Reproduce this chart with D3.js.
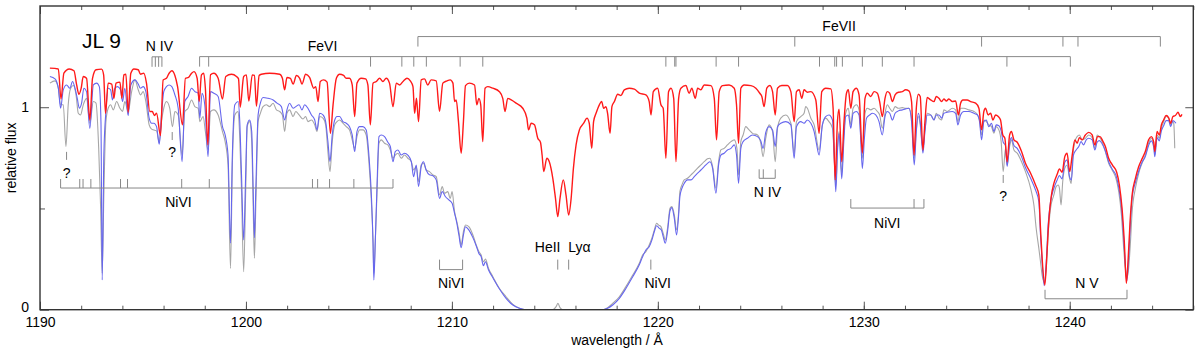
<!DOCTYPE html>
<html>
<head>
<meta charset="utf-8">
<script src="https://cdn.jsdelivr.net/npm/d3@7"></script>
<style>
  html, body { margin: 0; padding: 0; background: #fff; }
  svg text { font-family: "Liberation Sans", Arial, Helvetica, sans-serif; fill: #000; }
</style>
</head>
<body>
<div id="chart"></div>
<script>
// Spectrum of JL 9 around Ly alpha: observed (grey) and two models (blue, red)
// Values are [wavelength in Angstrom, relative flux]

const observedSpec = [
  [1190.48,1.119],[1190.73,1.130],[1190.89,1.094],[1191.00,1.012],[1191.13,1.012],[1191.26,0.806],[1191.37,1.012],[1191.49,1.094],
  [1191.62,1.107],[1191.75,1.061],[1191.86,0.970],[1191.97,0.962],[1192.10,1.012],[1192.26,1.044],[1192.42,0.921],[1192.59,1.028],
  [1192.72,1.020],[1192.85,0.797],[1192.94,0.517],[1193.02,0.180],[1193.10,0.567],[1193.20,0.929],[1193.31,0.995],[1193.43,1.012],
  [1193.56,0.987],[1193.72,1.028],[1193.88,0.995],[1194.01,0.979],[1194.12,1.028],[1194.28,0.979],[1194.45,1.077],[1194.61,1.135],
  [1194.77,1.086],[1194.88,1.061],[1195.01,1.077],[1195.14,1.028],[1195.30,0.913],[1195.42,0.892],[1195.53,0.888],[1195.66,0.883],
  [1195.79,0.827],[1195.90,0.929],[1196.01,0.995],[1196.14,1.028],[1196.30,0.995],[1196.43,0.904],[1196.55,0.979],[1196.71,0.962],
  [1196.90,0.764],[1197.03,0.979],[1197.19,0.995],[1197.36,1.036],[1197.52,1.003],[1197.68,0.995],[1197.76,0.929],[1197.92,0.954],
  [1198.03,0.880],[1198.16,0.789],[1198.28,0.979],[1198.44,0.987],[1198.65,0.962],[1198.86,0.880],[1198.99,0.830],[1199.13,0.715],
  [1199.25,0.204],[1199.34,0.715],[1199.46,0.962],[1199.62,0.979],[1199.70,0.847],[1199.78,0.600],[1199.89,0.188],[1199.99,0.600],
  [1200.06,0.904],[1200.18,0.929],[1200.28,0.830],[1200.35,0.517],[1200.41,0.254],[1200.48,0.517],[1200.59,0.929],[1200.70,0.970],
  [1200.83,1.003],[1200.99,1.012],[1201.15,1.003],[1201.32,1.020],[1201.48,0.987],[1201.64,0.979],[1201.77,0.962],[1201.88,0.880],
  [1201.99,0.970],[1202.12,0.987],[1202.29,0.954],[1202.42,0.979],[1202.58,0.962],[1202.77,0.942],[1202.90,0.954],[1203.01,0.929],
  [1203.18,0.937],[1203.34,0.913],[1203.45,0.880],[1203.58,0.954],[1203.74,0.946],[1203.87,0.913],[1203.98,0.781],[1204.08,0.682],
  [1204.19,0.830],[1204.31,0.913],[1204.42,0.929],[1204.55,0.937],[1204.71,0.921],[1204.87,0.904],[1205.03,0.888],[1205.16,0.839],
  [1205.28,0.797],[1205.39,0.855],[1205.52,0.888],[1205.68,0.888],[1205.84,0.863],[1205.97,0.731],[1206.09,0.534],[1206.17,0.336],
  [1206.21,0.180],[1206.28,0.336],[1206.36,0.567],[1206.46,0.822],[1206.57,0.839],[1206.73,0.822],[1206.89,0.814],[1207.01,0.789],
  [1207.14,0.748],[1207.25,0.764],[1207.38,0.773],[1207.54,0.748],[1207.70,0.764],[1207.86,0.748],[1208.03,0.731],[1208.14,0.690],
  [1208.27,0.707],[1208.38,0.633],[1208.51,0.715],[1208.62,0.723],[1208.75,0.690],[1208.91,0.682],[1209.08,0.666],[1209.24,0.657],
  [1209.40,0.567],[1209.53,0.608],[1209.64,0.575],[1209.80,0.583],[1209.92,0.550],[1210.01,0.583],[1210.13,0.484],[1210.24,0.435],
  [1210.34,0.386],[1210.45,0.320],[1210.56,0.386],[1210.66,0.418],[1210.82,0.410],[1211.02,0.369],[1211.18,0.320],[1211.31,0.287],
  [1211.42,0.270],[1211.53,0.237],[1211.63,0.250],[1211.78,0.204],[1211.99,0.163],[1212.31,0.105],[1212.63,0.064],[1212.96,0.026],
  [1213.28,0.007],[1213.60,0],[1214.90,0],[1215.06,0.015],[1215.15,0.031],[1215.25,0.010],[1215.38,0],[1217.32,0],
  [1217.56,0.010],[1217.81,0.031],[1218.13,0.064],[1218.45,0.114],[1218.78,0.171],[1219.10,0.229],[1219.26,0.270],[1219.42,0.287],
  [1219.58,0.320],[1219.71,0.353],[1219.83,0.394],[1219.94,0.427],[1220.04,0.418],[1220.15,0.410],[1220.26,0.377],[1220.36,0.344],
  [1220.47,0.402],[1220.59,0.501],[1220.68,0.509],[1220.80,0.468],[1220.91,0.394],[1221.01,0.484],[1221.07,0.583],[1221.17,0.616],
  [1221.28,0.641],[1221.44,0.649],[1221.61,0.666],[1221.77,0.682],[1221.93,0.699],[1222.09,0.715],[1222.25,0.731],[1222.41,0.745],
  [1222.53,0.748],[1222.66,0.707],[1222.82,0.600],[1222.95,0.731],[1223.06,0.789],[1223.22,0.797],[1223.38,0.814],[1223.55,0.830],
  [1223.71,0.839],[1223.84,0.797],[1223.92,0.666],[1224.03,0.830],[1224.14,0.863],[1224.27,0.904],[1224.43,0.888],[1224.60,0.871],
  [1224.84,0.863],[1225.00,0.822],[1225.11,0.756],[1225.24,0.847],[1225.40,0.913],[1225.57,0.880],[1225.70,0.731],[1225.81,0.896],
  [1225.97,0.946],[1226.21,0.962],[1226.46,0.921],[1226.62,0.773],[1226.73,0.929],[1226.94,0.954],[1227.10,0.970],[1227.18,1.003],
  [1227.26,0.995],[1227.43,0.946],[1227.59,0.913],[1227.83,0.789],[1227.99,0.913],[1228.15,0.946],[1228.31,0.929],[1228.48,0.896],
  [1228.56,0.764],[1228.64,0.608],[1228.73,0.814],[1228.80,0.880],[1228.93,0.674],[1229.03,0.863],[1229.12,0.970],[1229.25,0.995],
  [1229.37,0.913],[1229.48,0.995],[1229.64,1.012],[1229.77,0.987],[1229.93,0.748],[1230.06,0.970],[1230.17,0.995],[1230.34,0.987],
  [1230.50,0.995],[1230.66,0.979],[1230.77,0.962],[1230.90,0.896],[1231.03,0.970],[1231.14,1.012],[1231.26,0.995],[1231.39,0.979],
  [1231.52,1.003],[1231.68,0.995],[1231.87,0.998],[1232.03,0.995],[1232.19,0.995],[1232.32,0.946],[1232.45,0.748],[1232.55,0.888],
  [1232.65,0.954],[1232.74,0.913],[1232.87,0.797],[1232.97,0.888],[1233.08,0.970],[1233.25,0.962],[1233.41,0.937],[1233.52,0.970],
  [1233.65,0.946],[1233.78,0.937],[1233.89,0.987],[1234.05,0.979],[1234.30,0.995],[1234.46,0.987],[1234.57,0.929],[1234.70,0.995],
  [1234.86,0.995],[1235.10,0.987],[1235.35,0.979],[1235.51,0.965],[1235.62,0.937],[1235.72,0.863],[1235.83,0.937],[1235.95,0.929],
  [1236.07,0.913],[1236.20,0.904],[1236.32,0.872],[1236.43,0.904],[1236.56,0.888],[1236.67,0.830],[1236.77,0.682],[1236.88,0.797],
  [1236.96,0.715],[1237.08,0.806],[1237.17,0.839],[1237.29,0.789],[1237.45,0.773],[1237.66,0.731],[1237.85,0.682],[1238.10,0.600],
  [1238.26,0.517],[1238.37,0.402],[1238.50,0.303],[1238.58,0.237],[1238.66,0.171],[1238.76,0.138],[1238.86,0.204],[1238.95,0.369],
  [1239.07,0.501],[1239.23,0.567],[1239.34,0.608],[1239.44,0.616],[1239.50,0.600],[1239.58,0.517],[1239.66,0.633],[1239.76,0.699],
  [1239.87,0.715],[1239.99,0.649],[1240.07,0.624],[1240.15,0.764],[1240.25,0.830],[1240.36,0.855],[1240.47,0.863],[1240.60,0.839],
  [1240.76,0.847],[1240.92,0.863],[1241.09,0.850],[1241.22,0.797],[1241.33,0.863],[1241.44,0.855],[1241.57,0.830],[1241.73,0.781],
  [1241.89,0.723],[1242.06,0.690],[1242.25,0.646],[1242.38,0.583],[1242.51,0.468],[1242.62,0.303],[1242.70,0.204],[1242.77,0.155],
  [1242.86,0.204],[1242.95,0.336],[1243.03,0.484],[1243.19,0.600],[1243.35,0.674],[1243.51,0.723],[1243.67,0.764],[1243.83,0.822],
  [1243.96,0.847],[1244.08,0.814],[1244.13,0.764],[1244.24,0.863],[1244.35,0.847],[1244.45,0.896],[1244.56,0.929],[1244.68,0.954],
  [1244.80,0.946],[1244.90,0.913],[1244.98,0.929],[1245.05,0.921],[1245.10,0.797]
];

const modelBlueSpec = [
  [1190.48,1.152],[1190.73,1.140],[1190.89,1.094],[1191.00,0.995],[1191.13,1.086],[1191.29,1.110],[1191.45,1.094],[1191.58,1.127],
  [1191.70,1.094],[1191.81,1.044],[1191.91,0.995],[1192.02,1.020],[1192.13,1.094],[1192.26,1.077],[1192.42,0.896],[1192.59,1.110],
  [1192.75,1.119],[1192.88,1.102],[1192.96,0.929],[1193.02,0.147],[1193.10,0.764],[1193.20,0.979],[1193.31,1.094],[1193.43,1.086],
  [1193.52,1.036],[1193.64,1.094],[1193.77,1.102],[1193.91,1.086],[1194.01,1.028],[1194.12,1.094],[1194.28,0.959],[1194.41,1.110],
  [1194.61,1.135],[1194.77,1.114],[1194.88,1.094],[1195.01,1.102],[1195.14,1.077],[1195.30,0.946],[1195.42,0.921],[1195.53,0.921],
  [1195.66,0.904],[1195.79,0.817],[1195.90,0.962],[1196.01,1.077],[1196.14,1.102],[1196.27,1.110],[1196.40,1.102],[1196.55,1.061],
  [1196.71,0.995],[1196.90,0.731],[1197.03,1.028],[1197.19,1.053],[1197.36,1.094],[1197.52,1.077],[1197.68,1.069],[1197.76,0.946],
  [1197.87,1.069],[1198.00,1.012],[1198.16,0.756],[1198.28,1.077],[1198.44,1.069],[1198.65,1.053],[1198.86,0.904],[1198.99,0.863],
  [1199.13,0.764],[1199.25,0.328],[1199.34,0.764],[1199.46,1.012],[1199.62,1.028],[1199.70,0.929],[1199.78,0.682],[1199.89,0.344],
  [1199.99,0.682],[1200.06,0.913],[1200.18,0.937],[1200.28,0.880],[1200.35,0.600],[1200.41,0.356],[1200.48,0.600],[1200.59,0.962],
  [1200.70,1.020],[1200.83,1.048],[1201.07,1.044],[1201.32,1.036],[1201.51,1.020],[1201.72,1.003],[1201.88,0.937],[1201.99,0.987],
  [1202.12,1.020],[1202.29,0.995],[1202.42,1.003],[1202.58,1.012],[1202.72,0.987],[1202.85,1.012],[1203.01,0.995],[1203.18,0.962],
  [1203.34,0.937],[1203.45,0.888],[1203.58,0.970],[1203.74,0.962],[1203.87,0.929],[1203.98,0.830],[1204.08,0.731],[1204.19,0.863],
  [1204.31,0.937],[1204.42,0.954],[1204.55,0.954],[1204.71,0.929],[1204.87,0.921],[1205.03,0.904],[1205.16,0.863],[1205.28,0.781],
  [1205.39,0.880],[1205.52,0.904],[1205.68,0.904],[1205.84,0.888],[1205.97,0.764],[1206.09,0.567],[1206.17,0.336],[1206.21,0.147],
  [1206.28,0.336],[1206.36,0.600],[1206.46,0.855],[1206.57,0.863],[1206.73,0.855],[1206.89,0.827],[1207.01,0.806],[1207.14,0.731],
  [1207.25,0.781],[1207.38,0.789],[1207.54,0.764],[1207.70,0.773],[1207.86,0.764],[1208.03,0.731],[1208.14,0.657],[1208.27,0.715],
  [1208.38,0.608],[1208.51,0.707],[1208.62,0.731],[1208.75,0.690],[1208.91,0.666],[1209.08,0.662],[1209.24,0.641],[1209.40,0.550],
  [1209.53,0.583],[1209.69,0.558],[1209.85,0.542],[1210.01,0.526],[1210.13,0.476],[1210.24,0.427],[1210.34,0.369],[1210.45,0.306],
  [1210.56,0.369],[1210.66,0.410],[1210.82,0.394],[1211.02,0.356],[1211.18,0.316],[1211.31,0.278],[1211.42,0.262],[1211.53,0.217],
  [1211.63,0.237],[1211.78,0.196],[1211.99,0.158],[1212.31,0.102],[1212.63,0.056],[1212.96,0.023],[1213.28,0.007],[1213.60,0],
  [1217.32,0],[1217.56,0.007],[1217.81,0.023],[1218.13,0.056],[1218.45,0.105],[1218.78,0.163],[1219.10,0.222],[1219.26,0.262],
  [1219.42,0.295],[1219.58,0.311],[1219.71,0.344],[1219.83,0.386],[1219.94,0.415],[1220.07,0.402],[1220.17,0.394],[1220.26,0.361],
  [1220.36,0.328],[1220.47,0.386],[1220.59,0.488],[1220.68,0.504],[1220.80,0.451],[1220.91,0.369],[1221.01,0.468],[1221.07,0.558],
  [1221.17,0.600],[1221.28,0.624],[1221.44,0.641],[1221.61,0.641],[1221.77,0.657],[1221.93,0.674],[1222.09,0.690],[1222.25,0.707],
  [1222.41,0.723],[1222.53,0.731],[1222.66,0.698],[1222.82,0.575],[1222.95,0.715],[1223.06,0.764],[1223.22,0.773],[1223.38,0.789],
  [1223.55,0.797],[1223.71,0.814],[1223.82,0.764],[1223.92,0.624],[1224.03,0.797],[1224.14,0.830],[1224.35,0.847],[1224.60,0.863],
  [1224.84,0.855],[1225.00,0.834],[1225.11,0.797],[1225.24,0.876],[1225.40,0.904],[1225.57,0.888],[1225.70,0.806],[1225.81,0.904],
  [1225.97,0.921],[1226.21,0.929],[1226.46,0.913],[1226.62,0.748],[1226.73,0.904],[1226.94,0.929],[1227.10,0.921],[1227.26,0.937],
  [1227.43,0.921],[1227.59,0.880],[1227.70,0.822],[1227.83,0.764],[1227.99,0.913],[1228.15,0.954],[1228.31,0.962],[1228.48,0.937],
  [1228.56,0.764],[1228.64,0.583],[1228.73,0.797],[1228.80,0.870],[1228.93,0.646],[1229.03,0.830],[1229.12,0.954],[1229.25,0.962],
  [1229.37,0.896],[1229.48,0.970],[1229.64,0.979],[1229.77,0.962],[1229.85,0.847],[1229.93,0.698],[1230.03,0.847],[1230.13,0.946],
  [1230.29,0.962],[1230.42,0.970],[1230.58,0.962],[1230.74,0.929],[1230.90,0.863],[1231.03,0.954],[1231.14,0.979],[1231.26,0.970],
  [1231.39,0.937],[1231.52,0.970],[1231.68,0.982],[1231.87,0.987],[1232.03,0.992],[1232.19,0.995],[1232.32,0.929],[1232.45,0.715],
  [1232.55,0.880],[1232.65,0.970],[1232.74,0.929],[1232.87,0.773],[1232.97,0.880],[1233.08,0.962],[1233.25,0.962],[1233.41,0.937],
  [1233.52,0.962],[1233.65,0.962],[1233.78,0.946],[1233.89,0.970],[1234.05,0.975],[1234.30,0.979],[1234.46,0.970],[1234.57,0.913],
  [1234.70,0.962],[1234.86,0.979],[1235.10,0.979],[1235.35,0.970],[1235.51,0.962],[1235.62,0.929],[1235.72,0.839],[1235.83,0.929],
  [1235.95,0.937],[1236.07,0.904],[1236.20,0.921],[1236.32,0.880],[1236.43,0.913],[1236.56,0.909],[1236.67,0.883],[1236.77,0.827],
  [1236.88,0.811],[1236.96,0.707],[1237.08,0.822],[1237.17,0.850],[1237.29,0.811],[1237.45,0.797],[1237.66,0.756],[1237.85,0.702],
  [1238.10,0.649],[1238.34,0.591],[1238.50,0.534],[1238.58,0.369],[1238.66,0.237],[1238.76,0.119],[1238.86,0.237],[1238.95,0.418],
  [1239.07,0.534],[1239.23,0.600],[1239.39,0.641],[1239.50,0.662],[1239.63,0.646],[1239.76,0.728],[1239.87,0.740],[1239.99,0.657],
  [1240.08,0.641],[1240.18,0.764],[1240.31,0.789],[1240.44,0.806],[1240.55,0.830],[1240.67,0.814],[1240.80,0.839],[1240.92,0.847],
  [1241.09,0.839],[1241.22,0.789],[1241.33,0.827],[1241.44,0.835],[1241.57,0.820],[1241.73,0.784],[1241.89,0.731],[1242.06,0.695],
  [1242.25,0.662],[1242.38,0.603],[1242.51,0.509],[1242.62,0.353],[1242.70,0.221],[1242.77,0.142],[1242.86,0.254],[1242.95,0.435],
  [1243.03,0.554],[1243.19,0.629],[1243.35,0.685],[1243.51,0.728],[1243.67,0.756],[1243.83,0.811],[1243.96,0.834],[1244.08,0.801],
  [1244.13,0.756],[1244.24,0.850],[1244.35,0.834],[1244.45,0.883],[1244.56,0.909],[1244.68,0.934],[1244.80,0.934],[1244.90,0.904],
  [1245.01,0.934],[1245.16,0.921]
];

const modelRedSpec = [
  [1190.48,1.193],[1190.89,1.189],[1191.02,1.041],[1191.16,1.168],[1191.42,1.189],[1191.65,1.180],[1191.78,1.110],[1191.89,1.064],
  [1192.00,1.094],[1192.10,1.152],[1192.26,1.143],[1192.42,0.937],[1192.55,1.143],[1192.72,1.185],[1192.99,1.188],[1193.09,1.160],
  [1193.18,0.970],[1193.31,1.119],[1193.48,1.114],[1193.59,1.044],[1193.69,1.119],[1193.88,1.124],[1193.98,1.044],[1194.07,1.160],
  [1194.17,1.163],[1194.28,0.975],[1194.41,1.168],[1194.56,1.189],[1194.77,1.185],[1194.88,1.163],[1195.04,1.168],[1195.17,1.119],
  [1195.33,0.979],[1195.45,0.979],[1195.56,0.959],[1195.66,0.970],[1195.85,0.860],[1195.98,1.135],[1196.14,1.143],[1196.27,1.168],
  [1196.40,1.180],[1196.55,1.157],[1196.68,1.102],[1196.92,0.913],[1197.06,1.143],[1197.21,1.147],[1197.36,1.168],[1197.48,1.176],
  [1197.63,1.143],[1197.73,1.028],[1197.84,1.160],[1197.95,1.168],[1198.03,1.094],[1198.15,0.814],[1198.28,1.160],[1198.44,1.168],
  [1198.65,1.143],[1198.86,1.040],[1199.02,1.152],[1199.30,1.163],[1199.54,1.152],[1199.64,1.140],[1199.72,1.000],[1199.89,1.152],
  [1200.02,1.160],[1200.14,1.030],[1200.31,1.160],[1200.41,1.157],[1200.51,1.005],[1200.64,1.157],[1200.75,1.163],[1201.15,1.168],
  [1201.64,1.163],[1201.77,1.143],[1201.88,1.086],[1201.99,1.147],[1202.16,1.143],[1202.29,1.114],[1202.45,1.157],[1202.61,1.143],
  [1202.72,1.114],[1202.90,1.163],[1203.09,1.147],[1203.29,1.094],[1203.39,1.102],[1203.50,1.028],[1203.61,1.127],[1203.77,1.135],
  [1203.94,1.124],[1204.10,0.871],[1204.23,1.012],[1204.39,1.143],[1204.55,1.163],[1204.74,1.157],[1204.87,1.143],[1205.03,1.143],
  [1205.16,1.110],[1205.28,0.954],[1205.39,1.119],[1205.60,1.143],[1205.81,1.140],[1205.92,1.110],[1206.04,0.913],[1206.17,1.119],
  [1206.33,1.127],[1206.49,1.143],[1206.65,1.127],[1206.81,1.143],[1206.97,1.119],[1207.14,1.003],[1207.30,1.119],[1207.46,1.110],
  [1207.65,1.130],[1207.82,1.143],[1207.98,1.130],[1208.11,1.102],[1208.19,0.970],[1208.28,1.044],[1208.38,0.929],[1208.51,1.135],
  [1208.67,1.140],[1208.83,1.110],[1208.99,1.135],[1209.24,1.130],[1209.40,0.980],[1209.56,1.119],[1209.76,1.130],[1209.92,1.135],
  [1210.05,1.119],[1210.13,1.028],[1210.21,1.036],[1210.32,0.929],[1210.45,0.773],[1210.56,0.929],[1210.66,1.107],[1210.85,1.119],
  [1211.10,1.110],[1211.21,1.012],[1211.31,1.044],[1211.40,1.012],[1211.50,0.830],[1211.61,1.094],[1211.74,1.102],[1211.99,1.094],
  [1212.31,1.077],[1212.47,1.044],[1212.58,0.979],[1212.71,1.044],[1212.88,1.036],[1213.12,1.020],[1213.44,0.995],[1213.64,0.946],
  [1213.72,0.888],[1213.85,0.921],[1214.01,0.913],[1214.17,0.847],[1214.30,0.827],[1214.38,0.764],[1214.46,0.682],[1214.61,0.748],
  [1214.73,0.731],[1214.90,0.649],[1215.03,0.550],[1215.14,0.460],[1215.25,0.550],[1215.41,0.641],[1215.54,0.567],[1215.67,0.468],
  [1215.79,0.550],[1215.90,0.698],[1216.03,0.814],[1216.19,0.888],[1216.40,0.921],[1216.56,0.946],[1216.67,0.921],[1216.79,0.797],
  [1216.88,0.929],[1217.00,0.970],[1217.16,1.012],[1217.27,1.028],[1217.37,0.995],[1217.48,1.003],[1217.56,0.970],[1217.68,0.871],
  [1217.77,1.003],[1217.89,1.028],[1218.05,1.064],[1218.21,1.058],[1218.37,1.086],[1218.61,1.094],[1218.86,1.089],[1219.10,1.070],
  [1219.42,1.061],[1219.58,1.028],[1219.67,0.962],[1219.78,1.077],[1219.99,1.094],[1220.15,1.012],[1220.26,0.995],[1220.39,0.748],
  [1220.52,1.077],[1220.64,1.094],[1220.77,1.044],[1220.88,0.731],[1221.01,1.044],[1221.12,1.094],[1221.36,1.107],[1221.52,1.069],
  [1221.65,1.094],[1221.82,1.044],[1221.93,1.094],[1222.09,1.086],[1222.25,1.110],[1222.58,1.107],[1222.74,1.044],[1222.85,0.839],
  [1222.98,1.077],[1223.14,1.107],[1223.46,1.110],[1223.71,1.094],[1223.82,1.012],[1223.92,0.822],[1224.03,1.094],[1224.19,1.110],
  [1224.52,1.107],[1224.76,1.094],[1224.95,1.069],[1225.05,1.053],[1225.16,1.003],[1225.29,1.094],[1225.44,1.107],[1225.57,1.077],
  [1225.70,0.962],[1225.81,1.094],[1226.02,1.107],[1226.29,1.107],[1226.46,1.077],[1226.62,0.929],[1226.73,1.077],[1226.86,1.086],
  [1226.99,1.044],[1227.10,1.086],[1227.26,1.074],[1227.43,1.077],[1227.67,1.036],[1227.83,0.871],[1227.96,1.077],[1228.15,1.094],
  [1228.40,1.091],[1228.51,0.995],[1228.61,0.641],[1228.72,0.929],[1228.80,0.990],[1228.93,0.731],[1229.04,0.929],[1229.16,1.069],
  [1229.25,1.086],[1229.37,0.995],[1229.48,1.077],[1229.64,1.094],[1229.77,1.061],[1229.93,0.773],[1230.06,1.044],[1230.17,1.069],
  [1230.34,1.053],[1230.50,1.077],[1230.66,1.069],[1230.77,1.028],[1230.90,0.954],[1231.03,1.044],[1231.14,1.077],[1231.26,1.069],
  [1231.39,1.028],[1231.52,1.061],[1231.68,1.074],[1231.87,1.077],[1232.03,1.086],[1232.19,1.081],[1232.32,1.028],[1232.44,0.764],
  [1232.55,0.995],[1232.65,1.064],[1232.74,1.053],[1232.87,0.789],[1232.97,0.929],[1233.08,1.048],[1233.25,1.036],[1233.41,1.028],
  [1233.52,1.053],[1233.65,1.044],[1233.78,1.028],[1233.89,1.041],[1234.01,1.031],[1234.13,1.041],[1234.30,1.028],[1234.46,1.031],
  [1234.59,0.962],[1234.70,1.020],[1234.81,1.036],[1235.02,1.036],[1235.19,1.028],[1235.43,1.020],[1235.59,0.995],[1235.72,0.888],
  [1235.83,0.979],[1235.91,0.995],[1236.04,0.962],[1236.16,0.970],[1236.27,0.937],[1236.40,0.962],[1236.53,0.954],[1236.64,0.937],
  [1236.75,0.863],[1236.85,0.847],[1236.96,0.731],[1237.08,0.863],[1237.17,0.880],[1237.29,0.839],[1237.45,0.827],[1237.66,0.781],
  [1237.85,0.723],[1238.10,0.674],[1238.34,0.616],[1238.50,0.567],[1238.58,0.402],[1238.66,0.254],[1238.79,0.122],[1238.89,0.270],
  [1238.98,0.435],[1239.10,0.558],[1239.23,0.624],[1239.39,0.669],[1239.50,0.695],[1239.63,0.679],[1239.76,0.756],[1239.87,0.773],
  [1240.00,0.682],[1240.12,0.764],[1240.25,0.839],[1240.36,0.822],[1240.47,0.850],[1240.60,0.839],[1240.76,0.863],[1240.92,0.876],
  [1241.09,0.863],[1241.22,0.814],[1241.35,0.855],[1241.47,0.855],[1241.60,0.834],[1241.73,0.806],[1241.89,0.748],[1242.09,0.712],
  [1242.28,0.679],[1242.41,0.616],[1242.54,0.501],[1242.65,0.336],[1242.75,0.130],[1242.83,0.237],[1242.93,0.435],[1243.03,0.567],
  [1243.19,0.649],[1243.35,0.707],[1243.51,0.745],[1243.67,0.781],[1243.83,0.839],[1243.96,0.855],[1244.08,0.827],[1244.13,0.781],
  [1244.24,0.880],[1244.35,0.863],[1244.45,0.913],[1244.56,0.937],[1244.68,0.959],[1244.80,0.949],[1244.90,0.921],[1245.01,0.954],
  [1245.13,0.959],[1245.26,0.975],[1245.37,0.954],[1245.45,0.965]
];

// Line identifications (wavelengths in Angstrom)
const feViiLines = [1208.35, 1226.65, 1235.72, 1239.67, 1240.40, 1244.40];
const feViLines = [1197.75, 1198.19, 1206.05, 1207.57, 1208.15, 1208.76, 1210.40, 1211.50, 1220.39, 1220.82, 1220.88,
  1222.83, 1223.92, 1227.85, 1228.59, 1228.68, 1228.96, 1229.93, 1230.90, 1232.44, 1236.95, 1240.03];
const nIvBlueLines = [1195.44, 1195.60, 1195.76, 1195.92];
const niViBlueLines = [1191.00, 1191.93, 1192.09, 1192.47, 1193.91, 1194.25, 1196.88, 1198.22, 1203.23, 1203.48, 1204.06, 1205.24, 1207.14];
const niViLyaLines = [1209.40, 1210.52];
const heIILine = 1215.14;
const lyaLine = 1215.67;
const niViRedLine = 1219.66;
const nIvRedLines = [1224.92, 1225.12, 1225.70];
const niViRedLines = [1229.37, 1232.44, 1232.92];
const nVLines = [1238.80, 1242.78];
const unknownLines = [1191.29, 1196.42, 1236.77];

// Axis ticks
const xMajorTicks = [1190, 1200, 1210, 1220, 1230, 1240];
const xMinorTicks = d3.range(1190, 1247, 2);
const yMajorTicks = [0, 1];
const yMinorTicks = [0.5];

const CONFIG = {
    width: 1200,
    height: 353,
    margin: { top: 6, right: 6.7, bottom: 43.3, left: 40 },
    xDomain: [1190, 1246],
    yDomain: [0, 1.5]
};

function drawChart() {
    const W = CONFIG.width, H = CONFIG.height, m = CONFIG.margin;
    const innerW = W - m.left - m.right;
    const innerH = H - m.top - m.bottom;

    const svg = d3.select('#chart').append('svg')
        .attr('width', W)
        .attr('height', H);

    const x = d3.scaleLinear().domain(CONFIG.xDomain).range([m.left, m.left + innerW]);
    const y = d3.scaleLinear().domain(CONFIG.yDomain).range([m.top + innerH, m.top]);

    svg.append('clipPath').attr('id', 'plot-clip')
        .append('rect')
        .attr('x', m.left).attr('y', m.top)
        .attr('width', innerW).attr('height', innerH);

    // axes: ticks point inward, labels only on bottom and left
    const axisStyle = g => {
        g.select('.domain').remove();
        g.selectAll('.tick line').attr('stroke', '#555').attr('stroke-width', 1);
        g.selectAll('.tick text').attr('font-size', 14).attr('fill', '#000');
    };

    svg.append('g').attr('transform', `translate(0,${y(0)})`)
        .call(d3.axisBottom(x).tickValues(xMinorTicks).tickSize(-4).tickFormat(''))
        .call(axisStyle);
    svg.append('g').attr('transform', `translate(0,${y(0)})`)
        .call(d3.axisBottom(x).tickValues(xMajorTicks).tickSize(-8).tickPadding(7).tickFormat(d3.format('d')))
        .call(axisStyle);
    svg.append('g').attr('transform', `translate(0,${m.top})`)
        .call(d3.axisTop(x).tickValues(xMinorTicks).tickSize(-4).tickFormat(''))
        .call(axisStyle);
    svg.append('g').attr('transform', `translate(0,${m.top})`)
        .call(d3.axisTop(x).tickValues(xMajorTicks).tickSize(-8).tickFormat(''))
        .call(axisStyle);

    svg.append('g').attr('transform', `translate(${m.left},0)`)
        .call(d3.axisLeft(y).tickValues(yMinorTicks).tickSize(-5).tickFormat(''))
        .call(axisStyle);
    const yAxisLabels = svg.append('g').attr('transform', `translate(${m.left},0)`)
        .call(d3.axisLeft(y).tickValues(yMajorTicks).tickSize(-9).tickPadding(11).tickFormat(d3.format('d')))
        .call(axisStyle);
    // lift the "0" a little so it clears the "1190" below it
    yAxisLabels.selectAll('.tick text').filter(d => d === 0).attr('dy', '0.1em');
    svg.append('g').attr('transform', `translate(${m.left + innerW},0)`)
        .call(d3.axisRight(y).tickValues(yMinorTicks).tickSize(-4).tickFormat(''))
        .call(axisStyle);
    svg.append('g').attr('transform', `translate(${m.left + innerW},0)`)
        .call(d3.axisRight(y).tickValues(yMajorTicks).tickSize(-8).tickFormat(''))
        .call(axisStyle);

    // spectra
    const line = d3.line()
        .x(d => x(d[0]))
        .y(d => y(d[1]))
        .curve(d3.curveMonotoneX);

    const plot = svg.append('g').attr('clip-path', 'url(#plot-clip)');
    plot.append('path').datum(observedSpec)
        .attr('d', line).attr('fill', 'none')
        .attr('stroke', '#a6a6a6').attr('stroke-width', 1.1);
    plot.append('path').datum(modelBlueSpec)
        .attr('d', line).attr('fill', 'none')
        .attr('stroke', '#6666ee').attr('stroke-width', 1.1);
    plot.append('path').datum(modelRedSpec)
        .attr('d', line).attr('fill', 'none')
        .attr('stroke', '#ff1a1a').attr('stroke-width', 1.4);

    // frame
    svg.append('rect')
        .attr('x', m.left).attr('y', m.top)
        .attr('width', innerW).attr('height', innerH)
        .attr('fill', 'none').attr('stroke', '#333').attr('stroke-width', 1.4);

    // line identification marks
    const ids = svg.append('g').attr('class', 'ids');

    // bar at flux level yBar, ticks of length len (positive = downwards)
    function marks(waves, yBar, len, withBar) {
        const yb = y(yBar);
        if (withBar) {
            ids.append('line')
                .attr('x1', x(d3.min(waves))).attr('x2', x(d3.max(waves)))
                .attr('y1', yb).attr('y2', yb)
                .attr('stroke', '#888').attr('stroke-width', 1);
        }
        ids.selectAll(null).data(waves).enter().append('line')
            .attr('x1', d => x(d)).attr('x2', d => x(d))
            .attr('y1', yb).attr('y2', yb + len)
            .attr('stroke', '#888').attr('stroke-width', 1);
    }

    marks(feViiLines, 1.349, 10, true);
    marks(feViLines, 1.250, 10, true);
    marks(nIvBlueLines, 1.249, 10, true);
    marks(niViBlueLines, 0.601, -9, true);
    marks(niViLyaLines, 0.198, -10, true);
    marks([heIILine, lyaLine], 0.198, -10, false);
    marks([niViRedLine], 0.198, -10, false);
    marks(nIvRedLines, 0.649, -9, true);
    marks(niViRedLines, 0.502, -9, true);
    marks(nVLines, 0.054, -9, true);
    marks([unknownLines[0]], 0.740, -8, false);
    marks([unknownLines[1]], 0.838, -8, false);
    marks([unknownLines[2]], 0.626, -8, false);

    const labels = [
        { t: 'FeVII', w: 1228.80, f: 1.378 },
        { t: 'FeVI', w: 1203.72, f: 1.280 },
        { t: 'N IV', w: 1195.80, f: 1.280 },
        { t: 'NiVI', w: 1196.72, f: 0.507 },
        { t: '?', w: unknownLines[0], f: 0.651 },
        { t: '?', w: unknownLines[1], f: 0.756 },
        { t: '?', w: unknownLines[2], f: 0.537 },
        { t: 'NiVI', w: 1209.97, f: 0.107 },
        { t: 'HeII', w: 1214.65, f: 0.285 },
        { t: 'Ly\u03b1', w: 1216.19, f: 0.285 },
        { t: 'NiVI', w: 1219.99, f: 0.107 },
        { t: 'N IV', w: 1225.32, f: 0.558 },
        { t: 'NiVI', w: 1231.14, f: 0.404 },
        { t: 'N V', w: 1240.84, f: 0.107 }
    ];
    ids.selectAll(null).data(labels).enter().append('text')
        .attr('x', d => x(d.w))
        .attr('y', d => y(d.f))
        .attr('text-anchor', 'middle')
        .attr('font-size', 14)
        .text(d => d.t);

    // star name
    svg.append('text')
        .attr('x', x(1192.99)).attr('y', y(1.293))
        .attr('text-anchor', 'middle')
        .attr('font-size', 21)
        .text('JL 9');

    // axis titles
    svg.append('text')
        .attr('x', x(1218.02)).attr('y', 345)
        .attr('text-anchor', 'middle')
        .attr('font-size', 14)
        .text('wavelength / \u00c5');

    svg.append('text')
        .attr('transform', `translate(16,${y(0.75)}) rotate(-90)`)
        .attr('text-anchor', 'middle')
        .attr('font-size', 14)
        .text('relative flux');
}

if (document.readyState !== 'loading') {
    drawChart();
} else {
    document.addEventListener('DOMContentLoaded', drawChart);
}
</script>
</body>
</html>
